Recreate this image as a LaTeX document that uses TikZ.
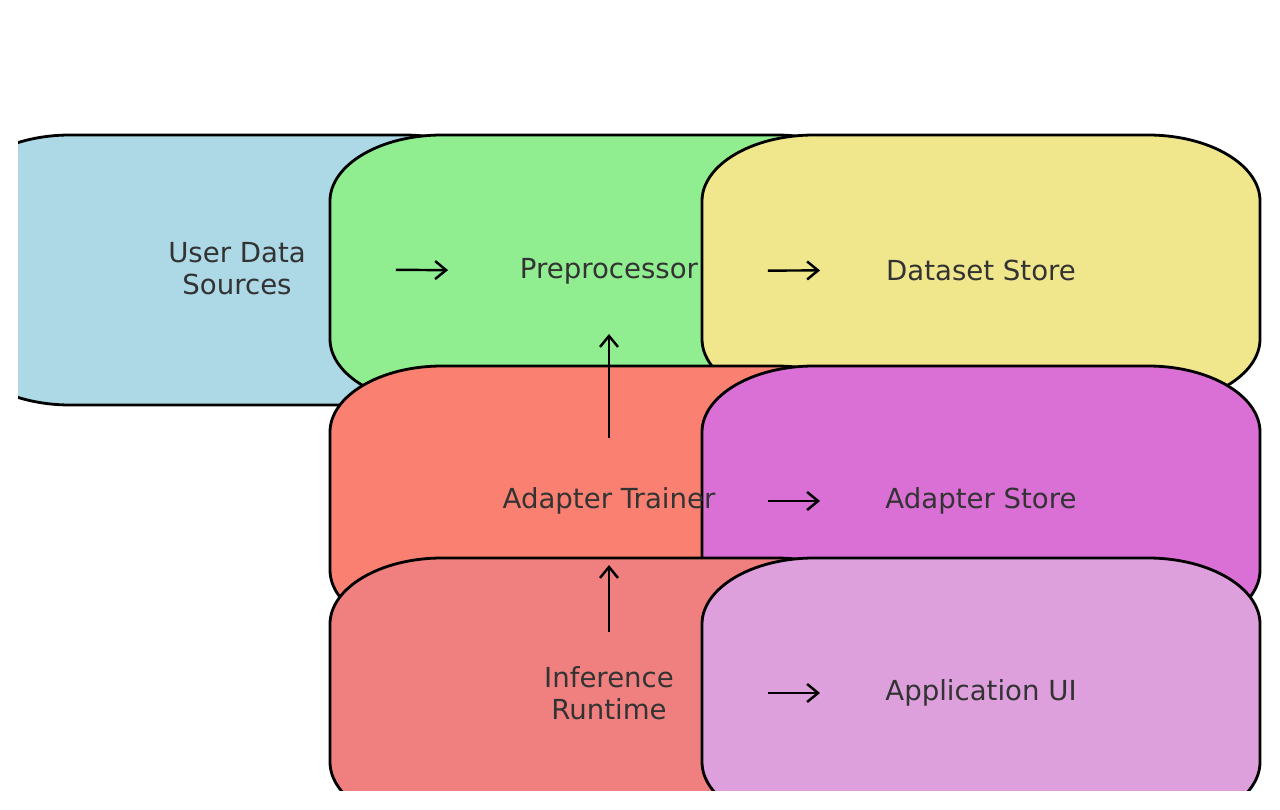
\documentclass[tikz,border=0pt]{standalone}
\usepackage{fontspec}
\setmainfont{DejaVu Sans}
\usetikzlibrary{arrows.meta}

\definecolor{boxblue}{HTML}{ADD8E6}
\definecolor{boxgreen}{HTML}{90EE90}
\definecolor{boxkhaki}{HTML}{F0E68C}
\definecolor{boxsalmon}{HTML}{FA8072}
\definecolor{boxorchid}{HTML}{DA70D6}
\definecolor{boxcoral}{HTML}{F08080}
\definecolor{boxplum}{HTML}{DDA0DD}
\definecolor{textgray}{HTML}{333333}

% rounded stage box around a centre (x, y, fill)
\newcommand{\stagebox}[3]{%
	\filldraw[stage, fill=#3] (#1,#2) ++(-167,-135) -- ++(334,0)
		.. controls +(62,0) and +(0,-36) .. ++(112,66) -- ++(0,138)
		.. controls +(0,36) and +(62,0) .. ++(-112,66) -- ++(-334,0)
		.. controls +(-62,0) and +(0,36) .. ++(-112,-66) -- ++(0,-138)
		.. controls +(0,-36) and +(-62,0) .. ++(112,-66) -- cycle;}

\begin{document}
\begin{tikzpicture}[x=0.02cm, y=-0.02cm,
		stage/.style={draw=black, line width=1.6pt, line join=round},
		stagetext/.style={text=textgray, align=center, inner sep=0pt,
			font=\fontsize{15.7}{18.2}\selectfont},
		flow/.style={-{Straight Barb[length=0.22cm, width=0.36cm, line width=1.4pt]}, line width=1.4pt}]
	\useasboundingbox (0,0) rectangle (1280,810);
	\begin{scope}
		\clip (18,0) rectangle (1262,790);
		\stagebox{237}{270}{boxblue}
		\stagebox{609}{270}{boxgreen}
		\stagebox{981}{270}{boxkhaki}
		\stagebox{609}{501}{boxsalmon}
		\stagebox{981}{501}{boxorchid}
		\stagebox{609}{693}{boxcoral}
		\stagebox{981}{693}{boxplum}

		\node[stagetext] (uds) at (237,269) {User Data\\Sources};
		\node[stagetext] (pre) at (609,271) {Preprocessor};
		\node[stagetext] (dss) at (981,270) {Dataset Store};
		\node[stagetext] (trn) at (609,501) {Adapter Trainer};
		\node[stagetext] (ads) at (981,501) {Adapter Store};
		\node[stagetext] (inf) at (609,693) {Inference\\Runtime};
		\node[stagetext] (app) at (981,693) {Application UI};

		\draw[flow, shorten <=3.18cm, shorten >=3.22cm] (uds.center) -- (pre.center);
		\draw[flow, shorten <=3.18cm, shorten >=3.22cm] (pre.center) -- (dss.center);
		\draw[flow, shorten <=3.18cm, shorten >=3.22cm] (trn.center) -- (ads.center);
		\draw[flow, shorten <=3.18cm, shorten >=3.22cm] (inf.center) -- (app.center);
		\draw[flow, shorten <=1.26cm, shorten >=1.26cm] (trn.center) -- (pre.center);
		\draw[flow, shorten <=1.22cm, shorten >=1.28cm] (inf.center) -- (trn.center);
	\end{scope}
\end{tikzpicture}
\end{document}
